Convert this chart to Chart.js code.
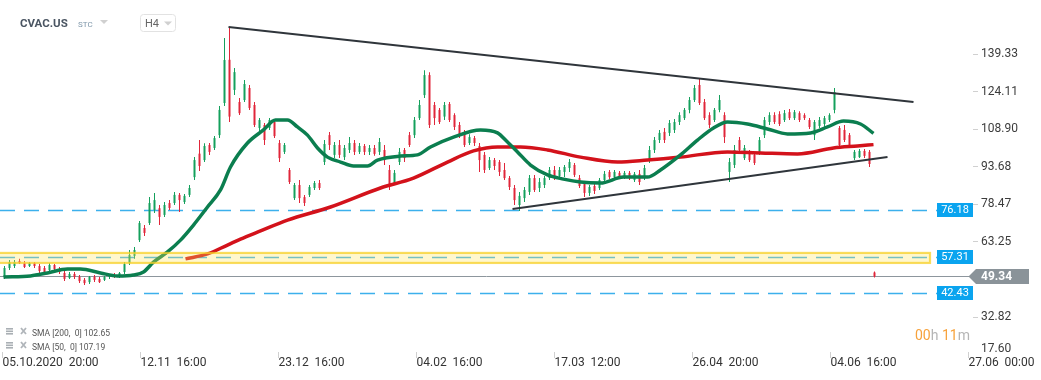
<!DOCTYPE html>
<html><head><meta charset="utf-8">
<script src="https://cdn.jsdelivr.net/npm/chart.js@4.4.1/dist/chart.umd.min.js"></script>
<style>html,body{margin:0;padding:0;background:#fff;overflow:hidden}</style>
</head><body>
<canvas id="c" width="1041" height="380"></canvas>
<script>
// ---- data (H4 candles, CVAC.US) ----
const opens  = [49.1,52.7,53.5,55.5,54.7,53.5,54.7,53.5,52.7,51.9,53.9,52.3,50.7,48.7,50.3,49.1,47.9,47.0,49.1,48.3,47.9,49.1,49.9,49.1,51.1,
54.7,57.6,64.0,68.9,70.9,76.2,76.9,74.2,79.0,79.0,82.3,79.4,82.3,89.5,99.0,96.4,102.5,101.3,106.5,119.5,137.0,124.8,119.9,120.7,125.6,
118.7,109.4,110.6,109.4,111.8,103.3,99.7,92.4,81.0,86.3,81.4,82.3,85.1,87.1,95.6,106.5,98.5,102.5,97.6,100.5,103.3,99.7,102.1,99.7,101.3,
99.7,100.5,92.4,87.1,95.6,100.5,106.5,106.5,113.4,122.7,130.8,118.7,116.7,114.0,119.1,114.6,110.6,107.3,103.3,105.3,102.1,98.5,93.2,96.4,95.6,
92.4,89.1,85.1,78.2,81.0,83.5,89.1,85.1,86.3,89.1,92.4,89.9,91.6,93.2,94.4,89.1,86.7,83.1,85.9,85.1,88.3,91.6,89.5,91.2,89.5,
91.2,88.3,90.8,89.1,96.4,100.5,104.5,107.8,107.4,108.6,111.8,113.4,116.7,120.7,126.8,119.9,114.6,112.6,116.7,114.6,91.6,94.4,104.5,97.2,99.7,
98.5,99.7,106.5,111.8,114.6,115.0,112.6,115.8,113.4,115.4,114.6,112.6,106.5,110.2,111.0,112.6,116.7,109.4,108.6,106.5,97.2,97.6,100.1,99.7,50.9];
const highs  = [53.5,55.9,55.9,56.4,55.5,55.1,55.1,54.3,53.5,54.7,54.3,53.1,51.5,51.1,51.1,49.9,48.7,49.5,49.9,49.1,49.5,50.3,50.7,51.1,55.1,
60.0,61.2,71.7,70.1,81.4,83.1,78.2,79.4,80.2,83.5,83.1,82.7,86.3,97.6,104.5,103.2,103.3,106.1,118.3,145.8,150.3,133.7,121.5,128.8,126.8,
119.9,113.4,111.4,113.4,112.6,104.5,103.3,93.2,87.1,88.3,82.3,86.3,87.9,88.3,104.5,107.8,103.7,104.5,102.5,105.7,104.5,103.3,102.9,102.5,102.5,
105.3,102.5,94.4,92.4,101.3,101.3,107.8,113.8,120.7,132.8,132.0,119.9,117.5,119.9,119.9,115.4,111.8,108.6,106.9,106.1,103.3,99.7,97.6,97.2,96.4,
95.2,89.9,86.3,83.5,85.5,90.4,90.4,89.1,89.9,93.6,94.0,93.6,94.4,96.8,95.2,90.4,87.5,86.3,86.7,89.1,92.0,92.4,92.4,92.0,92.0,
92.0,91.6,92.4,94.4,102.1,105.7,108.6,109.4,112.6,113.0,115.8,117.5,121.9,126.8,129.6,121.1,115.8,117.5,122.7,115.8,97.2,102.5,105.7,102.5,100.5,
99.3,105.7,113.8,115.8,115.8,116.2,116.7,117.1,116.7,116.2,115.4,113.4,112.6,113.8,114.2,115.4,125.6,110.2,110.6,107.4,100.5,100.9,100.9,100.5,51.3];
const lows   = [48.3,51.9,52.7,54.3,52.7,53.1,52.7,50.7,50.3,51.5,51.5,50.3,47.4,48.3,48.3,46.6,45.8,46.2,47.0,46.6,47.4,48.3,48.7,48.7,50.3,
53.9,56.4,63.2,65.7,70.1,75.0,70.1,73.4,76.2,78.2,75.4,78.6,81.4,88.3,92.0,95.6,98.5,100.5,105.3,118.3,111.8,122.7,114.6,119.9,116.7,
109.8,106.5,102.5,108.6,105.3,95.6,98.9,86.7,80.2,79.0,77.8,81.4,84.3,84.3,94.4,100.5,97.2,97.2,96.4,99.3,98.5,98.9,98.5,98.5,98.1,
98.5,94.4,84.3,86.3,94.4,95.6,101.7,105.3,112.6,121.5,109.4,110.6,111.0,112.6,111.8,108.6,105.3,101.7,102.5,102.1,91.6,91.2,92.4,92.4,90.0,
88.3,84.3,78.2,75.8,79.4,82.3,83.5,83.5,85.1,88.3,88.3,89.1,89.5,91.6,89.5,85.1,81.4,81.9,82.7,84.3,87.1,88.7,88.3,88.7,88.7,
88.3,87.5,86.3,88.3,95.2,99.3,103.3,103.3,106.1,107.4,110.6,112.6,115.4,119.9,118.7,112.6,109.4,111.8,115.8,103.3,87.5,93.2,99.3,96.4,95.6,
94.4,98.5,105.3,110.6,111.0,110.2,111.8,112.6,112.6,111.8,112.6,109.0,104.5,109.4,109.8,111.8,115.4,101.3,103.7,101.7,96.4,97.2,97.2,93.6,48.9];
const closes = [52.7,55.1,55.1,54.7,53.1,54.7,53.5,51.5,51.1,53.9,52.3,51.1,48.3,50.3,49.1,47.4,46.6,49.1,47.9,47.0,49.1,49.5,49.1,50.7,54.3,
58.0,60.0,70.9,66.9,79.0,80.2,73.4,78.2,77.0,82.3,80.2,81.9,85.1,96.4,94.0,102.1,99.7,105.3,116.7,136.9,114.0,132.0,115.4,127.2,117.5,
110.6,112.6,104.5,112.6,106.1,97.2,102.5,87.5,86.3,81.0,79.0,85.5,87.1,85.1,102.9,102.5,102.5,98.5,101.3,103.3,99.7,102.1,99.7,101.3,98.9,
103.7,96.4,86.3,91.2,99.7,97.2,102.5,112.6,118.7,130.8,110.6,113.4,111.8,118.7,112.6,109.8,106.5,102.5,105.7,103.3,96.4,92.4,96.4,94.0,91.6,
89.1,85.5,80.2,81.9,84.3,89.1,84.3,87.5,89.1,92.4,89.1,92.4,93.6,95.6,90.4,85.9,83.1,85.5,83.9,88.3,90.8,89.5,91.6,89.5,91.2,
89.1,90.8,87.5,93.2,100.5,104.5,107.4,104.5,111.4,111.8,114.6,116.7,120.7,125.6,119.5,113.4,110.6,116.7,120.7,105.7,95.6,100.5,100.5,101.3,96.4,
95.2,104.5,112.6,114.6,111.8,111.0,115.4,113.4,115.8,112.6,113.4,109.8,111.8,112.6,113.4,114.6,123.9,102.5,104.5,102.5,99.7,100.1,98.1,94.8,49.3];

const sma50Idx = [-0.2,5.2,8.6,12.6,15.2,19.2,22.6,25.8,27.8,29.8,32.6,35.2,37.8,40.6,43.2,45.2,48.6,51.8,54.2,56.6,58.6,60.6,62.6,64.6,67.2,69.8,72.6,74.6,79.2,82.6,85.2,89.8,95.2,98.6,100.6,102.6,105.2,108.6,111.8,115.2,119.2,123.8,128.6,131.2,135.2,138.6,141.8,144.6,148.6,152.6,156.6,161.2,164.6,167.8,171.2,173.8];
const sma50Val = [49.1,49.5,50.7,52.3,52.3,50.7,49.5,49.9,51.1,55.1,59.2,64.0,70.1,77.4,84.3,93.6,103.3,108.6,112.6,112.6,109.8,106.5,101.3,97.6,95.6,94.0,94.0,96.4,98.0,98.5,101.7,105.7,108.6,107.4,103.7,99.7,94.4,90.4,88.7,87.5,87.1,89.5,89.5,92.4,98.5,104.5,109.4,111.8,111.0,109.0,107.0,107.4,109.8,112.2,111.0,107.2];
const sma200Idx = [36.2,40.6,44.6,47.2,51.2,56.6,65.2,75.2,81.8,88.6,93.8,98.6,103.2,108.6,115.2,122.6,128.6,135.2,144.6,151.2,158.6,165.8,170.6,173.8];
const sma200Val = [56.4,58.4,62.0,64.4,67.7,72.1,77.4,85.1,89.1,95.6,100.1,101.7,101.7,100.5,97.6,95.6,96.4,97.6,99.7,99.3,98.9,101.3,102.1,102.65];

const trendUpperIdx = [44.8, 181.8], trendUpperVal = [150.3, 119.9];
const trendLowerIdx = [101.6, 176.6], trendLowerVal = [76.6, 97.6];

const levelValues = [76.18, 57.31, 42.43];
const bandRange = [54.75, 58.8];
const lastPrice = 49.34;

const yTicks = [139.33, 124.11, 108.90, 93.68, 78.47, 63.25, 48.04, 32.82];
const yBottomLabel = '17.60';
const xTickIdx = [-0.4, 27.2, 54.8, 82.4, 110, 137.6, 165.2, 192.8];
const xTickLabels = ['05.10.2020  20:00','12.11  16:00','23.12  16:00','04.02  16:00','17.03  12:00','26.04  20:00','04.06  16:00','27.06  00:00'];
const smaLegend = ['SMA [200,  0] 102.65', 'SMA [50,  0] 107.19'];
const yMin = 18.7, yMax = 161.2, xMin = -0.9, xMax = 193.7;

// ---- build ----
const UP = '#14a05c', DOWN = '#e0263a';
const colors = closes.map((c, i) => c >= opens[i] ? UP : DOWN);
const wickData = closes.map((c, i) => ({x: i, y: [lows[i], highs[i]]}));
const bodyData = closes.map((c, i) => ({x: i, y: [opens[i], c]}));
const toXY = (xs, ys) => xs.map((x, i) => ({x, y: ys[i]}));
const FONT = 'Roboto, "Liberation Sans", Arial, sans-serif';

const overlay = {
  id: 'overlay',
  beforeDatasetsDraw(chart) {
    const {ctx, chartArea: a, scales: {y}} = chart;
    const boxL = a.right - 36;
    ctx.save();
    ctx.beginPath(); ctx.rect(a.left, a.top, a.right - a.left, a.bottom - a.top); ctx.clip();
    ctx.setLineDash([15, 9]);
    ctx.strokeStyle = '#3cb0ec'; ctx.lineWidth = 1.5;
    levelValues.forEach(v => {
      const yy = Math.round(y.getPixelForValue(v)) + 0.5;
      ctx.beginPath(); ctx.moveTo(a.left, yy); ctx.lineTo(boxL, yy); ctx.stroke();
    });
    ctx.setLineDash([]);
    ctx.strokeStyle = '#8d969d'; ctx.lineWidth = 1;
    const yp = Math.round(y.getPixelForValue(lastPrice)) + 0.5;
    ctx.beginPath(); ctx.moveTo(a.left, yp); ctx.lineTo(a.right, yp); ctx.stroke();
    ctx.restore();
  },
  afterDatasetsDraw(chart) {
    const {ctx, chartArea: a, scales: {y}} = chart;
    const boxL = a.right - 36;
    ctx.save();
    // yellow band (over candles, semi transparent)
    const yb1 = y.getPixelForValue(bandRange[1]), yb2 = y.getPixelForValue(bandRange[0]);
    ctx.fillStyle = 'rgba(255,228,90,0.30)';
    ctx.fillRect(a.left, yb1, boxL - 7 - a.left, yb2 - yb1);
    ctx.strokeStyle = 'rgba(247,208,40,0.75)'; ctx.lineWidth = 2.2;
    ctx.strokeRect(a.left - 2, yb1, boxL - 7 - a.left + 2, yb2 - yb1);
    // level boxes
    ctx.font = '11px ' + FONT; ctx.textAlign = 'center'; ctx.textBaseline = 'middle';
    levelValues.forEach(v => {
      const yy = Math.round(y.getPixelForValue(v));
      ctx.fillStyle = '#0aa4ef';
      ctx.fillRect(boxL, yy - 7, 36, 14);
      ctx.fillStyle = '#ffffff';
      ctx.fillText(v.toFixed(2), boxL + 18, yy + 0.5);
    });
    ctx.restore();
  },
  afterDraw(chart) {
    const {ctx, chartArea: a, scales: {y}} = chart;
    ctx.save();
    // last price tag
    const yp = Math.round(y.getPixelForValue(lastPrice)) + 0.5;
    const tipX = a.right - 4.5, bx = a.right + 3, bw = 53;
    ctx.fillStyle = '#8a9399';
    ctx.beginPath();
    ctx.moveTo(tipX, yp); ctx.lineTo(bx, yp - 7.5); ctx.lineTo(bx + bw, yp - 7.5);
    ctx.lineTo(bx + bw, yp + 7.5); ctx.lineTo(bx, yp + 7.5); ctx.closePath(); ctx.fill();
    ctx.fillStyle = '#ffffff'; ctx.font = 'bold 12px ' + FONT;
    ctx.textAlign = 'left'; ctx.textBaseline = 'middle';
    ctx.fillText(lastPrice.toFixed(2), a.right + 8, yp + 0.5);
    // bottom y label
    ctx.fillStyle = '#3c3c3c'; ctx.font = '12px ' + FONT;
    ctx.fillText(yBottomLabel, a.right + 8, a.bottom - 3);
    // header
    ctx.textBaseline = 'alphabetic';
    ctx.fillStyle = '#4a5562'; ctx.font = 'bold 11.5px ' + FONT;
    ctx.fillText('CVAC.US', 20, 27);
    ctx.fillStyle = '#7f97aa'; ctx.font = '8px ' + FONT;
    ctx.fillText('STC', 78, 27);
    ctx.fillStyle = '#d0d0d0';
    ctx.beginPath(); ctx.moveTo(100, 20); ctx.lineTo(108, 20); ctx.lineTo(104, 24); ctx.closePath(); ctx.fill();
    ctx.strokeStyle = '#e2e2e2'; ctx.lineWidth = 1;
    ctx.beginPath(); ctx.roundRect(140.5, 14.5, 35, 17, 3); ctx.stroke();
    ctx.fillStyle = '#666'; ctx.font = '11px ' + FONT;
    ctx.fillText('H4', 145, 27);
    ctx.fillStyle = '#d0d0d0';
    ctx.beginPath(); ctx.moveTo(164, 21.5); ctx.lineTo(172, 21.5); ctx.lineTo(168, 25.5); ctx.closePath(); ctx.fill();
    // legend
    smaLegend.forEach((t, k) => {
      const by = 336 + k * 14;
      ctx.fillStyle = '#a9afb4';
      ctx.fillRect(6, by - 8, 7, 1.6); ctx.fillRect(6, by - 5.5, 7, 1.6); ctx.fillRect(6, by - 3, 7, 1.6);
      ctx.strokeStyle = '#b0b5ba'; ctx.lineWidth = 1.8;
      ctx.beginPath(); ctx.moveTo(21, by - 8); ctx.lineTo(26, by - 2); ctx.moveTo(26, by - 8); ctx.lineTo(21, by - 2); ctx.stroke();
      ctx.fillStyle = '#555'; ctx.font = '8.5px ' + FONT;
      ctx.fillText(t, 32, by);
    });
    // timer
    ctx.font = '14px ' + FONT;
    let tx = 915;
    [['00', '#f7a23b'], ['h ', '#b5b5b5'], ['11', '#f7a23b'], ['m', '#b5b5b5']].forEach(([s, c]) => {
      ctx.fillStyle = c; ctx.fillText(s, tx, 340); tx += ctx.measureText(s).width;
    });
    ctx.restore();
  }
};

new Chart(document.getElementById('c'), {
  type: 'bar',
  data: {
    datasets: [
      {label: 'wick', data: wickData, backgroundColor: colors, barThickness: 1, grouped: false, inflateAmount: 0, order: 11},
      {label: 'body', data: bodyData, backgroundColor: colors, barThickness: 2, grouped: false, inflateAmount: 0, minBarLength: 1, order: 10},
      {type: 'line', label: 'SMA200', data: toXY(sma200Idx, sma200Val), borderColor: '#d3121b', borderWidth: 3.5, pointRadius: 0, cubicInterpolationMode: 'monotone', order: 6},
      {type: 'line', label: 'SMA50', data: toXY(sma50Idx, sma50Val), borderColor: '#0b7e4f', borderWidth: 3.5, pointRadius: 0, cubicInterpolationMode: 'monotone', order: 5},
      {type: 'line', label: 'tu', data: toXY(trendUpperIdx, trendUpperVal), borderColor: '#2f353b', borderWidth: 2, pointRadius: 0, order: 1},
      {type: 'line', label: 'tl', data: toXY(trendLowerIdx, trendLowerVal), borderColor: '#2f353b', borderWidth: 2, pointRadius: 0, order: 1}
    ]
  },
  options: {
    responsive: false, animation: false, devicePixelRatio: 1,
    layout: {padding: 0},
    plugins: {legend: {display: false}, tooltip: {enabled: false}},
    scales: {
      x: {
        type: 'linear', min: xMin, max: xMax, offset: false,
        grid: {drawOnChartArea: false, drawTicks: true, tickLength: 6, color: '#d0d0d0', offset: false},
        border: {display: false},
        afterBuildTicks: s => { s.ticks = xTickIdx.map(v => ({value: v})); },
        afterFit: s => { s.height = 28; s.paddingLeft = 0; s.paddingRight = 0; },
        ticks: {autoSkip: false, maxRotation: 0, minRotation: 0, align: 'start', padding: -2,
          color: '#333', font: {size: 12, family: FONT},
          callback: (v, i) => xTickLabels[i]}
      },
      y: {
        position: 'right', min: yMin, max: yMax,
        grid: {drawOnChartArea: false, drawTicks: true, tickLength: 5, color: '#d0d0d0'},
        border: {display: false},
        afterBuildTicks: s => { s.ticks = yTicks.map(v => ({value: v})); },
        afterFit: s => { s.width = 68; s.paddingTop = 0; s.paddingBottom = 0; },
        ticks: {padding: 3, color: '#3c3c3c', font: {size: 12, family: FONT},
          callback: v => Number(v).toFixed(2)}
      }
    }
  },
  plugins: [overlay]
});
</script>
</body></html>
